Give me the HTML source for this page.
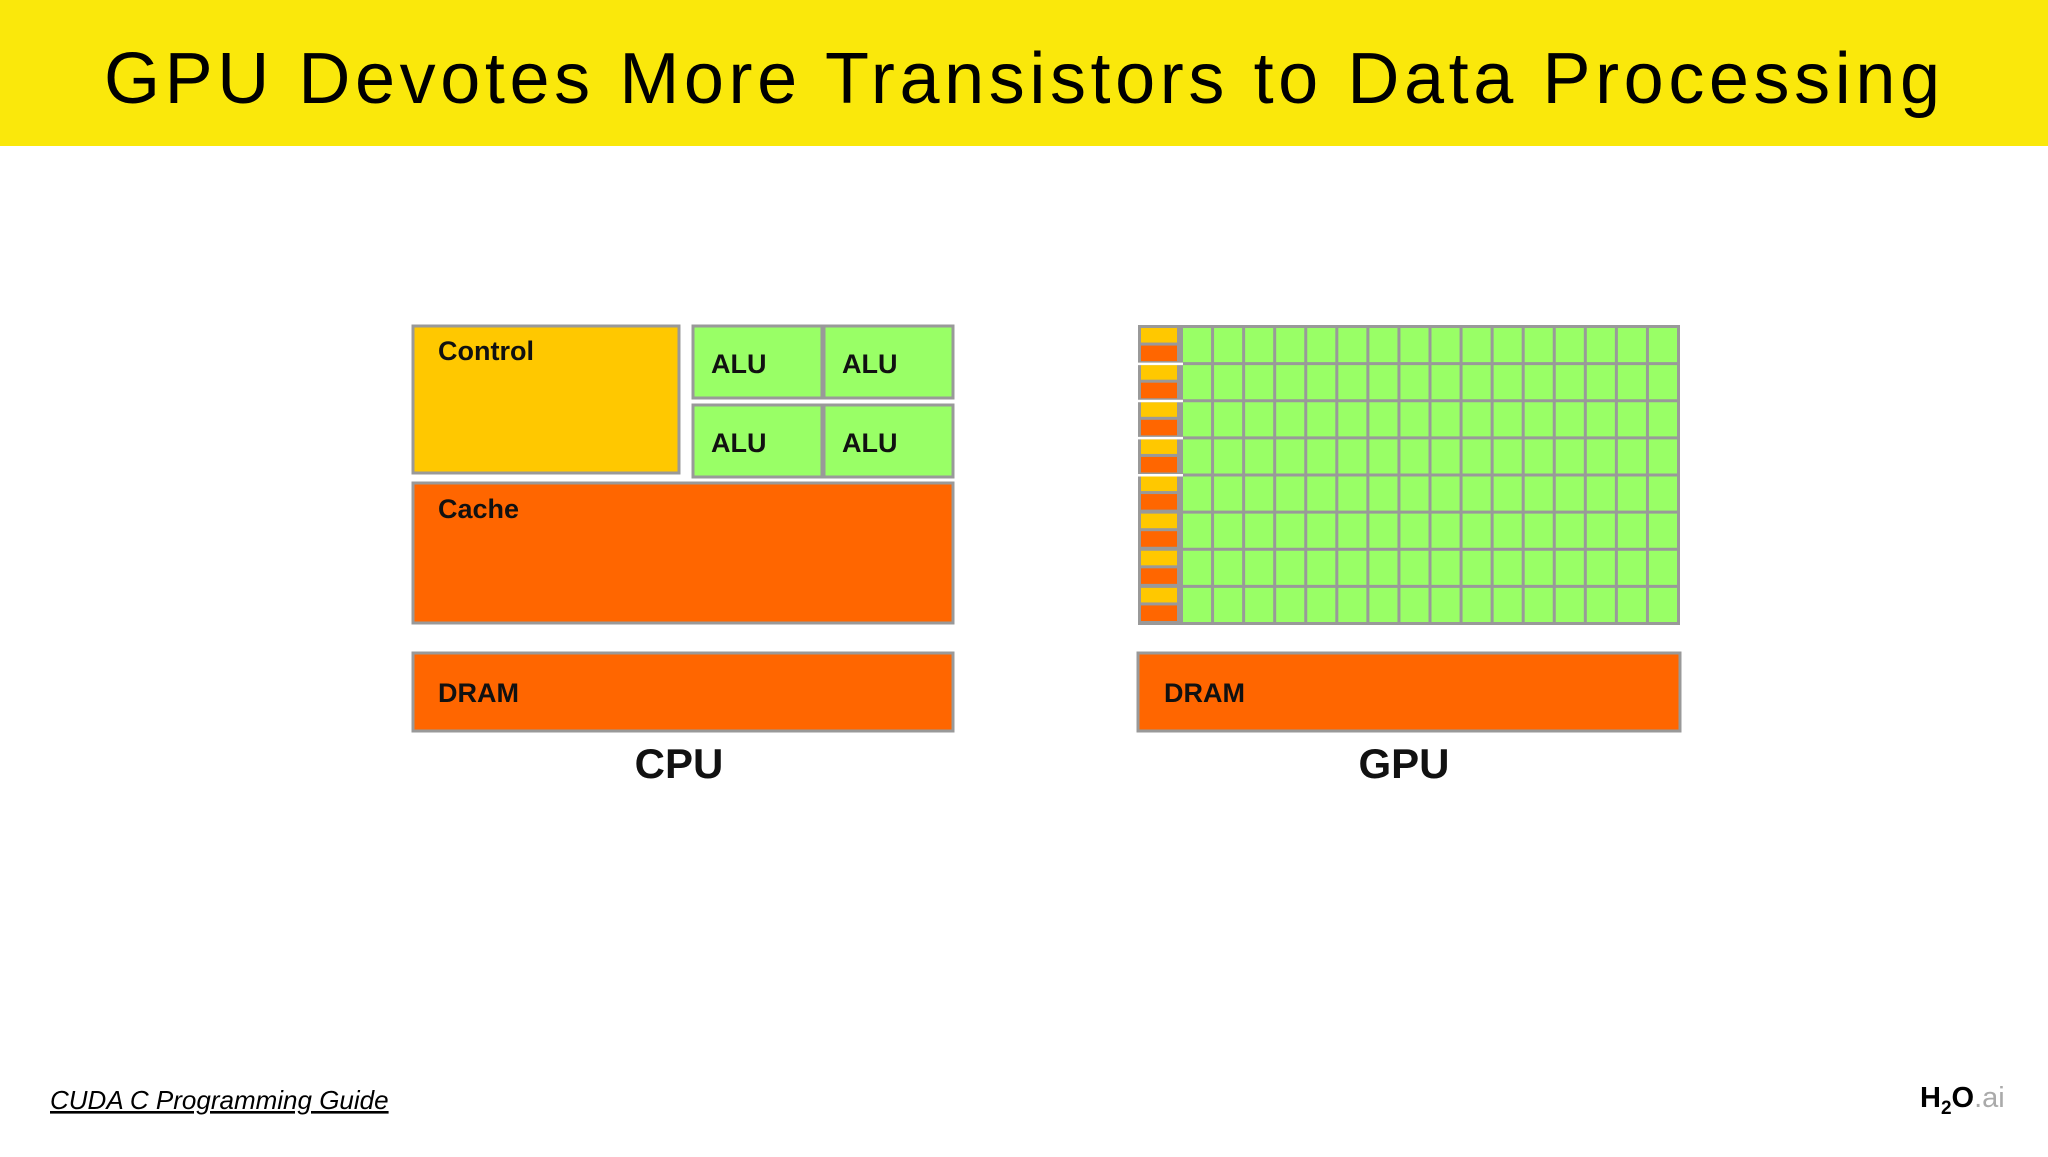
<!DOCTYPE html>
<html><head><meta charset="utf-8"><style>
html,body{margin:0;padding:0;background:#fff;}
body{width:2048px;height:1152px;overflow:hidden;position:relative;font-family:"Liberation Sans",sans-serif;}
</style></head><body>
<svg width="2048" height="1152" viewBox="0 0 2048 1152" xmlns="http://www.w3.org/2000/svg">
<rect x="0" y="0" width="2048" height="146" fill="#FAE80B"/>
<text x="104" y="103" font-family="Liberation Sans, sans-serif" font-size="72" fill="#000" textLength="1836" lengthAdjust="spacing">GPU Devotes More Transistors to Data Processing</text>

<g stroke="#999" stroke-width="3" font-family="Liberation Sans, sans-serif" font-weight="bold">
<rect x="413" y="326" width="266" height="147" fill="#FFC800"/>
<text x="438" y="360" font-size="27" stroke="none" fill="#111">Control</text>
<rect x="693" y="326" width="129" height="72" fill="#99FF66"/>
<rect x="824" y="326" width="129" height="72" fill="#99FF66"/>
<rect x="693" y="405" width="129" height="72" fill="#99FF66"/>
<rect x="824" y="405" width="129" height="72" fill="#99FF66"/>
<g stroke="none" fill="#111" font-size="27">
<text x="711" y="373">ALU</text>
<text x="842" y="373">ALU</text>
<text x="711" y="452">ALU</text>
<text x="842" y="452">ALU</text>
</g>
<rect x="413" y="483" width="540" height="140" fill="#FF6600"/>
<text x="438" y="518" font-size="27" stroke="none" fill="#111">Cache</text>
<rect x="413" y="653" width="540" height="78" fill="#FF6600"/>
<text x="438" y="702" font-size="27" stroke="none" fill="#111">DRAM</text>
<text x="679" y="778" font-size="42" text-anchor="middle" stroke="none" fill="#111">CPU</text>
</g>

<g id="gpu" font-family="Liberation Sans, sans-serif" font-weight="bold">
<rect x="1138" y="325" width="542" height="300" fill="#999"/>
<rect x="1138" y="653" width="542" height="78" fill="#FF6600" stroke="#999" stroke-width="3"/>
<text x="1164" y="702" font-size="27" fill="#111">DRAM</text>
<text x="1404" y="778" font-size="42" text-anchor="middle" fill="#111">GPU</text>
</g>

<text x="50" y="1109" font-family="Liberation Sans, sans-serif" font-size="26" font-style="italic" text-decoration="underline" fill="#000">CUDA C Programming Guide</text>
<text x="1920" y="1107" font-family="Liberation Sans, sans-serif" font-size="29" fill="#000"><tspan font-weight="bold">H</tspan><tspan font-weight="bold" font-size="19" dy="7">2</tspan><tspan font-weight="bold" dy="-7">O</tspan><tspan fill="#aaa">.ai</tspan></text>
</svg>
<script>
const gpuRows = 8;
const gpuCols = 16;
const g = document.getElementById('gpu');
const NS = 'http://www.w3.org/2000/svg';
const x0 = 1138, y0 = 325, w = 542, h = 297, leftW = 45, gap = 3;
const rowH = h / gpuRows;
const colW = (w - leftW) / gpuCols;
function mk(x, y, ww, hh, fill) {
  const r = document.createElementNS(NS, 'rect');
  r.setAttribute('x', x); r.setAttribute('y', y);
  r.setAttribute('width', ww); r.setAttribute('height', hh);
  r.setAttribute('fill', fill);
  g.insertBefore(r, g.children[1]);
  return r;
}
for (let i = 0; i < gpuRows; i++) {
  const ry = y0 + i * rowH;
  const c = mk(x0 + gap, ry + gap, leftW - 2 * gap - 3, rowH / 2 - gap - 1, '#FFC800');
  
  
  const k = mk(x0 + gap, ry + rowH / 2 + 2, leftW - 2 * gap - 3, rowH / 2 - gap, '#FF6600');
  
  
  if (i < 4) {
    const s = mk(x0, ry + rowH + 0.5, leftW, 2.5, '#fff');
    
    
  }
  for (let j = 0; j < gpuCols; j++) {
    const cell = mk(x0 + leftW + j * colW, ry + gap, colW - gap, rowH - gap, '#99FF66');
    
    
  }
}
</script>
</body></html>
